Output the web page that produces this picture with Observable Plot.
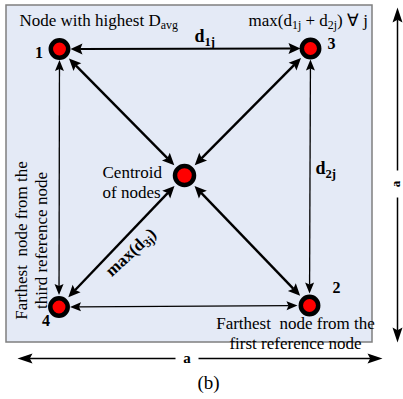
<!DOCTYPE html>
<html><head><meta charset="utf-8">
<script src="https://cdn.jsdelivr.net/npm/d3@7"></script>
<script src="https://cdn.jsdelivr.net/npm/@observablehq/plot@0.6"></script>
<style>body{margin:0;background:#fff} svg text, svg tspan{white-space:pre; font-family:"Liberation Serif", "Times New Roman", serif !important;}</style>
</head><body><div id="chart"></div>
<script>
// ---- data ----
const nodeIds = ["1", "3", "2", "4", "c"];
const nodeX   = [59, 310, 309, 58.5, 184];
const nodeY   = [48.5, 48, 305, 306.5, 175];
const edgeFrom = ["1", "1", "3", "4", "1", "3", "4", "2"];
const edgeTo   = ["3", "4", "2", "2", "c", "c", "c", "c"];
const edgeLabels = ["d_{1j}", "", "d_{2j}", "", "", "", "max(d_{3j})", ""];
const boxCorners = [6, 5, 372, 342];
const sideLabel = "a";
const notes = [
  "Node with highest D_{avg}",
  "max(d_{1j} + d_{2j}) ∀ j",
  "Centroid\nof nodes",
  "Farthest  node from the\nthird reference node",
  "Farthest  node from the\nfirst reference node",
  "(b)"
];

// ---- derived tables ----
const nodes = nodeIds.map((id, i) => ({id, x: nodeX[i], y: nodeY[i]}));
const N = Object.fromEntries(nodes.map(d => [d.id, d]));
const box = {x1: boxCorners[0], y1: boxCorners[1], x2: boxCorners[2], y2: boxCorners[3]};

function styleOf(i) {
  if (edgeTo[i] === "c") return {w: 2.4, L: 12, W: 11, gA: 13.5, gB: 14.5};
  if (i === 0) return {w: 2, L: 12, W: 11, gA: 11, gB: 10};
  return {w: 1.3, L: 11, W: 9, gA: 11, gB: 12};
}
const shafts = [], heads = [];
function head(id, tx, ty, ux, uy, L, W) {
  const bx = tx - ux * L, by = ty - uy * L, px = -uy, py = ux;
  heads.push({id, x: tx, y: ty}, {id, x: bx + px * W / 2, y: by + py * W / 2},
             {id, x: tx - ux * L * 0.82, y: ty - uy * L * 0.82}, {id, x: bx - px * W / 2, y: by - py * W / 2});
}
edgeFrom.forEach((f, i) => {
  const A = N[f], B = N[edgeTo[i]], s = styleOf(i);
  const len = Math.hypot(B.x - A.x, B.y - A.y), ux = (B.x - A.x) / len, uy = (B.y - A.y) / len;
  const ax = A.x + ux * s.gA, ay = A.y + uy * s.gA, bx = B.x - ux * s.gB, by = B.y - uy * s.gB;
  head("e" + i + "a", ax, ay, -ux, -uy, s.L, s.W);
  head("e" + i + "b", bx, by, ux, uy, s.L, s.W);
  shafts.push({x1: ax + ux * s.L * 0.8, y1: ay + uy * s.L * 0.8, x2: bx - ux * s.L * 0.8, y2: by - uy * s.L * 0.8, w: s.w});
});
// dimension arrows (side length a), drawn from the label outward
const dims = [
  {cx: 186.5, cy: box.y2 + 16, gap: 11.5, ends: [[box.x1 + 11, box.y2 + 16], [box.x2 + 10, box.y2 + 16]]},
  {cx: box.x2 + 25, cy: 183.5, gap: 13.5, ends: [[box.x2 + 25, box.y1 + 2], [box.x2 + 25, box.y2]]}
];
dims.forEach((d, k) => d.ends.forEach(([ex, ey], j) => {
  const len = Math.hypot(ex - d.cx, ey - d.cy), ux = (ex - d.cx) / len, uy = (ey - d.cy) / len;
  head("d" + k + j, ex, ey, ux, uy, 15, 10);
  shafts.push({x1: d.cx + ux * d.gap, y1: d.cy + uy * d.gap, x2: ex - ux * 12, y2: ey - uy * 12, w: 1.5});
}));
const edgeMid = edgeFrom.map((f, i) => ({x: (N[f].x + N[edgeTo[i]].x) / 2, y: (N[f].y + N[edgeTo[i]].y) / 2, t: edgeLabels[i]}));

const serif = {fontFamily: "Liberation Serif", fill: "black", fontSize: 17};
const numOff = {"1": [-20.5, 8.5], "3": [21, 0], "2": [27, -13], "4": [-13, 18.5]};

const chart = Plot.plot({
  width: 403, height: 399, margin: 0,
  x: {domain: [0, 403], range: [0, 403], axis: null},
  y: {domain: [0, 399], range: [0, 399], axis: null},
  style: {background: "white"},
  marks: [
    Plot.rect([box], {x1: "x1", y1: "y1", x2: "x2", y2: "y2", fill: "#e4eaf6", stroke: "#7f7f7f", strokeWidth: 1.5}),
    Plot.link(shafts, {x1: "x1", y1: "y1", x2: "x2", y2: "y2", stroke: "black", strokeWidth: d => d.w}),
    Plot.line(heads, {x: "x", y: "y", z: "id", fill: "black", stroke: "none"}),
    Plot.dot(nodes.filter(d => d.id !== "c"), {x: "x", y: "y", r: 8.7, fill: "#ff0000", stroke: "black", strokeWidth: 4.5}),
    Plot.dot(nodes.filter(d => d.id === "c"), {x: "x", y: "y", r: 9.5, fill: "#ff0000", stroke: "black", strokeWidth: 4.5}),
    // node numbers
    Plot.text(nodes.filter(d => d.id !== "c"), {x: d => d.x + numOff[d.id][0], y: d => d.y + numOff[d.id][1],
      text: "id", lineAnchor: "bottom", textAnchor: "middle", ...serif, fontSize: 16, fontWeight: "bold"}),
    // edge labels
    Plot.text([edgeMid[0]], {x: "x", y: "y", text: "t", dx: 9.5, dy: -7, textAnchor: "start", lineAnchor: "bottom", ...serif, fontSize: 18, fontWeight: "bold"}),
    Plot.text([edgeMid[2]], {x: "x", y: "y", text: "t", dx: 5.5, dy: -3.5, textAnchor: "start", lineAnchor: "bottom", ...serif, fontSize: 18, fontWeight: "bold"}),
    Plot.text([edgeMid[6]], {x: "x", y: "y", text: "t", dx: 9, dy: 11, rotate: -43, textAnchor: "middle", lineAnchor: "middle", ...serif, fontWeight: "bold"}),
    // notes
    Plot.text([N["1"]], {x: "x", y: "y", text: () => notes[0], dx: -40, dy: -23.5, textAnchor: "start", lineAnchor: "bottom", ...serif}),
    Plot.text([N["3"]], {x: "x", y: "y", text: () => notes[1], dx: -62, dy: -23, textAnchor: "start", lineAnchor: "bottom", ...serif}),
    Plot.text([N["c"]], {x: "x", y: "y", text: () => notes[2], dx: -82, dy: 22, textAnchor: "start", lineAnchor: "bottom", lineHeight: 1.12, ...serif}),
    Plot.text([N["4"]], {x: "x", y: "y", text: () => notes[3], dx: -12.5, dy: -66.5, rotate: -90, textAnchor: "middle", lineAnchor: "bottom", lineHeight: 1.12, ...serif}),
    Plot.text([N["2"]], {x: "x", y: "y", text: () => notes[4], dx: -14, dy: 43, textAnchor: "middle", lineAnchor: "bottom", lineHeight: 1.12, ...serif}),
    Plot.text([box], {x: d => (d.x1 + d.x2) / 2, y: "y2", text: () => notes[5], dx: 19, dy: 46, textAnchor: "middle", lineAnchor: "bottom", ...serif, fontSize: 19}),
    // side labels
    Plot.text([dims[0]], {x: "cx", y: "cy", text: () => sideLabel, textAnchor: "middle", lineAnchor: "middle", ...serif, fontSize: 15, fontWeight: "bold"}),
    Plot.text([dims[1]], {x: "cx", y: "cy", text: () => sideLabel, dx: 2.5, rotate: -90, textAnchor: "middle", lineAnchor: "bottom", ...serif, fontSize: 13, fontWeight: "bold"})
  ]
});
document.getElementById("chart").appendChild(chart);

// subscripts: turn "_{...}" into smaller, lowered tspans
(function applySubs(svg) {
  const walker = document.createTreeWalker(svg, NodeFilter.SHOW_TEXT);
  const list = []; let n;
  while ((n = walker.nextNode())) if (n.nodeValue.includes("_{")) list.push(n);
  for (const t of list) {
    const fs = parseFloat(getComputedStyle(t.parentNode).fontSize) || 16;
    const parts = t.nodeValue.split(/_\{([^}]*)\}/);
    const frag = document.createDocumentFragment();
    parts.forEach((p, i) => {
      if (!p) return;
      if (i % 2 === 0) frag.appendChild(document.createTextNode(p));
      else {
        const s = document.createElementNS("http://www.w3.org/2000/svg", "tspan");
        s.style.fontSize = (fs * 0.7) + "px";
        s.style.baselineShift = (-fs * 0.2) + "px";
        s.textContent = p;
        frag.appendChild(s);
      }
    });
    t.parentNode.replaceChild(frag, t);
  }
})(chart);
</script></body></html>
